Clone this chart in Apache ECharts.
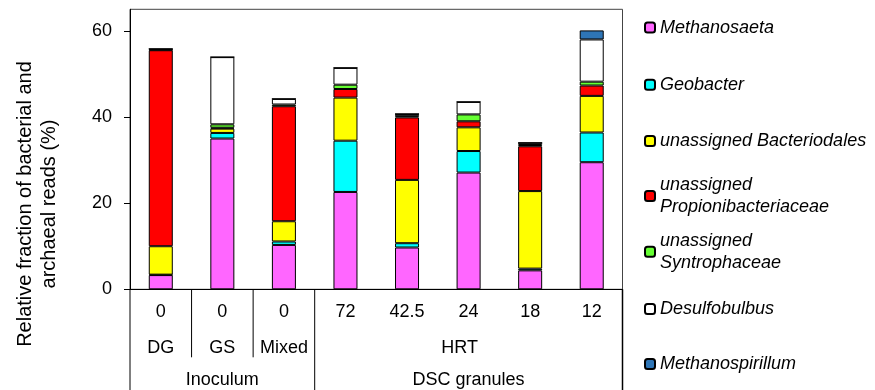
<!DOCTYPE html>
<html>
<head>
<meta charset="utf-8">
<script src="https://cdn.jsdelivr.net/npm/echarts@6/dist/echarts.min.js"></script>
<style>html,body{margin:0;padding:0;background:#fff}#c{width:875px;height:390px}</style>
</head>
<body>
<div id="c"></div>
<script>
// ---- data ----
var hrtLabels = ['0', '0', '0', '72', '42.5', '24', '18', '12'];
var sampleLabels = ['DG', 'GS', 'Mixed', 'HRT'];
var groupLabels = ['Inoculum', 'DSC granules'];
var seriesNames = ['Methanosaeta', 'Geobacter', 'unassigned Bacteriodales', 'unassigned Propionibacteriaceae', 'unassigned Syntrophaceae', 'Desulfobulbus', 'Methanospirillum'];
var methanosaeta      = [3.3, 35.0, 10.3, 22.6, 9.7, 27.1, 4.4, 29.5];
var geobacter         = [0.1, 1.3, 0.8, 11.9, 1.0, 5.0, 0.4, 6.9];
var bacteriodales     = [6.6, 1.0, 4.7, 10.0, 14.7, 5.5, 18.0, 8.5];
var propionibact      = [45.5, 0.2, 26.7, 2.0, 14.5, 1.4, 10.4, 2.4];
var syntrophaceae     = [0.1, 0.8, 0.4, 1.0, 0.3, 1.6, 0.3, 0.9];
var desulfobulbus     = [0.2, 15.6, 1.3, 3.9, 0.5, 2.9, 0.5, 9.8];
var methanospirillum  = [0, 0, 0, 0, 0, 0, 0, 2.1];
var yTicks = [0, 20, 40, 60];

var values = [methanosaeta, geobacter, bacteriodales, propionibact, syntrophaceae, desulfobulbus, methanospirillum];
var colors = ['#FF66FF', '#00FFFF', '#FFFF00', '#FF0000', '#66FF33', '#FFFFFF', '#2E75B6'];
var FONT = 'Liberation Sans, Arial, sans-serif';

var series = seriesNames.map(function (n, i) {
  return {
    name: n, type: 'bar', stack: 'all', barWidth: '39%',
    data: values[i],
    itemStyle: { color: colors[i], borderColor: '#000', borderWidth: 1 },
    emphasis: { disabled: true }
  };
});

var legendCenters = [27.5, 84.7, 141, 196, 251.7, 309, 364];
var LH = 22;
var legends = seriesNames.map(function (n, i) {
  var two = n.indexOf('unassigned P') === 0 || n.indexOf('unassigned S') === 0;
  return {
    data: [n], orient: 'vertical', left: 644,
    top: two ? legendCenters[i] - 1.5 * LH : legendCenters[i] - LH / 2,
    padding: 0, itemWidth: 10, itemHeight: 10, selectedMode: false,
    formatter: function (name) { return two ? name.replace(' ', '\n') : name; },
    textStyle: { fontFamily: FONT, fontStyle: 'italic', fontSize: 18, color: '#000', lineHeight: LH, padding: two ? [LH, 0, 0, 0] : 0 }
  };
});

var chart = echarts.init(document.getElementById('c'));
chart.setOption({
  animation: false,
  grid: { left: 130, right: 252.5, top: 9.3, bottom: 100.7, show: true, borderColor: '#444', borderWidth: 1 },
  legend: legends,
  xAxis: {
    type: 'category', data: hrtLabels,
    axisLine: { lineStyle: { color: '#000', width: 1 } },
    axisTick: { show: false },
    axisLabel: { margin: 14, fontFamily: FONT, fontSize: 18, color: '#000', interval: 0 }
  },
  yAxis: {
    type: 'value', min: 0, max: 65, interval: 20,
    axisLine: { show: true, lineStyle: { color: '#000', width: 1 } },
    axisTick: { show: true, length: 6, lineStyle: { color: '#000' }, customValues: yTicks },
    axisLabel: { margin: 18, fontFamily: FONT, fontSize: 18, color: '#000', customValues: yTicks },
    splitLine: { show: false }
  },
  series: series
});

// ---- table below the axis, positioned from the axis scales ----
function px(i) { return chart.convertToPixel({ xAxisIndex: 0 }, i); }
var band = px(1) - px(0);
function edge(i) { return px(0) + (i - 0.5) * band; }  // left boundary of category i
var y0 = chart.convertToPixel({ yAxisIndex: 0 }, 0);
var H = chart.getHeight();
var g = [];
function vline(x, yA, yB, w) { g.push({ type: 'line', shape: { x1: x, y1: yA, x2: x, y2: yB }, style: { stroke: '#000', lineWidth: w || 1 }, silent: true }); }
vline(edge(0), y0, H);
vline(edge(8), y0, H, 1.5);
vline(edge(3), y0, H);
vline(edge(1), y0, y0 + 68);
vline(edge(2), y0, y0 + 68);
function txt(s, x, y) { g.push({ type: 'text', x: x, y: y, style: { text: s, fontFamily: FONT, fontSize: 18, fill: '#000', align: 'center', verticalAlign: 'middle' }, silent: true }); }
txt(sampleLabels[0], px(0), 348);
txt(sampleLabels[1], px(1), 348);
txt(sampleLabels[2], px(2), 348);
txt(sampleLabels[3], (edge(3) + edge(8)) / 2 - 9, 348);
txt(groupLabels[0], (edge(0) + edge(3)) / 2, 380);
txt(groupLabels[1], (edge(3) + edge(8)) / 2, 380);
g.push({ type: 'text', x: 37, y: 204, rotation: Math.PI / 2,
  style: { text: 'Relative fraction of bacterial and\narchaeal reads (%)', fontFamily: FONT, fontSize: 20, lineHeight: 24, fill: '#000', align: 'center', verticalAlign: 'middle' }, silent: true });
chart.setOption({ graphic: g });
</script>
</body>
</html>
